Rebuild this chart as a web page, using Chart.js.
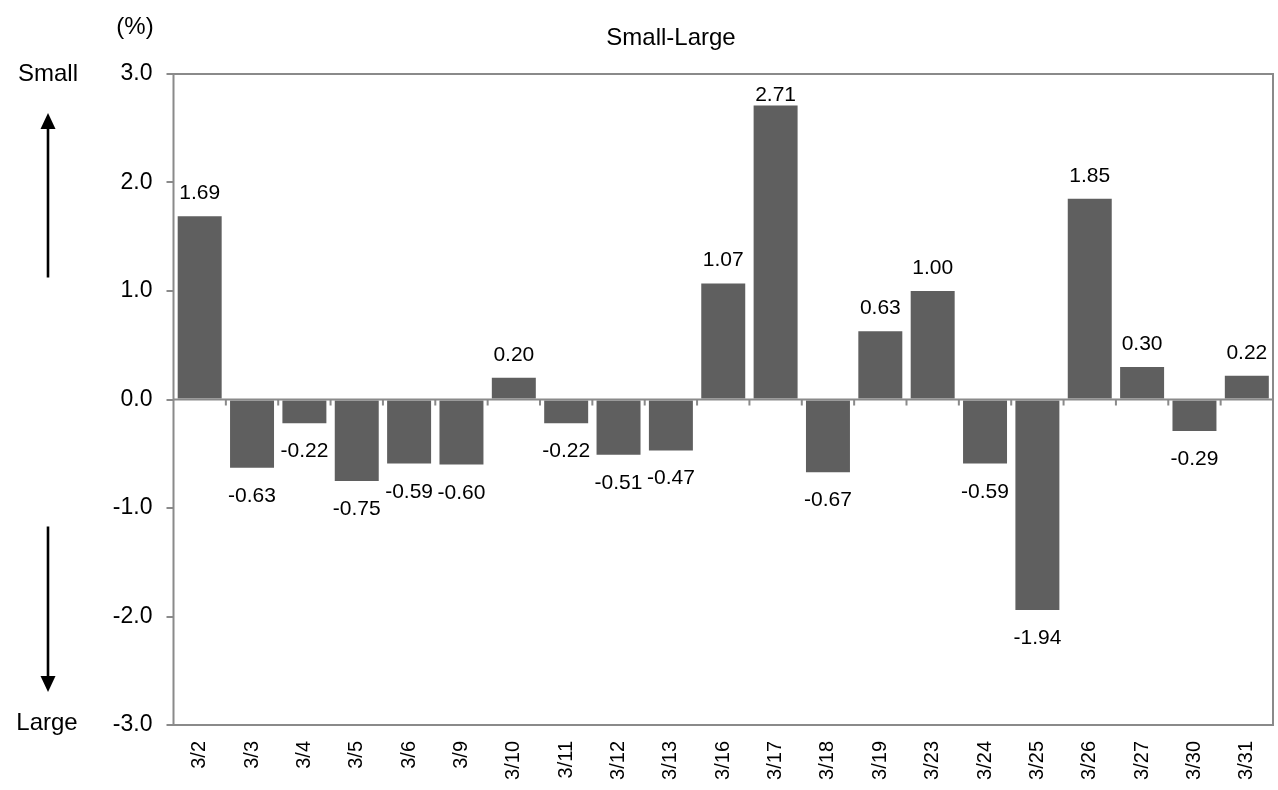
<!DOCTYPE html>
<html>
<head>
<meta charset="utf-8">
<script src="https://cdn.jsdelivr.net/npm/chart.js@4/dist/chart.umd.min.js"></script>
<style>
  body { margin: 0; background: #fff; }
  #wrap { width: 1278px; height: 790px; }
</style>
</head>
<body>
<div id="wrap"><canvas id="chart" width="1278" height="790"></canvas></div>
<script>
// data
const dates = ['3/2', '3/3', '3/4', '3/5', '3/6', '3/9', '3/10', '3/11', '3/12', '3/13', '3/16',
               '3/17', '3/18', '3/19', '3/23', '3/24', '3/25', '3/26', '3/27', '3/30', '3/31'];
const smallMinusLarge = [1.69, -0.63, -0.22, -0.75, -0.59, -0.60, 0.20, -0.22, -0.51, -0.47, 1.07,
                         2.71, -0.67, 0.63, 1.00, -0.59, -1.94, 1.85, 0.30, -0.29, 0.22];
const yMin = -3;
const yMax = 3;
const yStep = 1;
const chartTitle = 'Small-Large';
const unitLabel = '(%)';
const topLabel = 'Small';
const bottomLabel = 'Large';

const FONT = '"Liberation Sans", Arial, sans-serif';
const frameColor = '#8a8a8a';

function arrow(ctx, x, yFrom, yTo) {
    const dir = yTo < yFrom ? -1 : 1;
    const head = 16;
    ctx.save();
    ctx.strokeStyle = '#000';
    ctx.fillStyle = '#000';
    ctx.lineWidth = 2.6;
    ctx.beginPath();
    ctx.moveTo(x, yFrom);
    ctx.lineTo(x, yTo - dir * head);
    ctx.stroke();
    ctx.beginPath();
    ctx.moveTo(x, yTo);
    ctx.lineTo(x - 7.5, yTo - dir * head);
    ctx.lineTo(x + 7.5, yTo - dir * head);
    ctx.closePath();
    ctx.fill();
    ctx.restore();
}

const decorations = {
    id: 'decorations',
    afterDatasetsDraw(chart) {
        const {ctx, chartArea: area, scales: {y}} = chart;
        const zero = y.getPixelForValue(0);
        const step = (area.right - area.left) / dates.length;

        ctx.save();
        // frame round the plot area
        ctx.strokeStyle = frameColor;
        ctx.lineWidth = 2;
        ctx.strokeRect(area.left, area.top, area.right - area.left, area.bottom - area.top);

        // zero line with small ticks between categories
        ctx.beginPath();
        ctx.moveTo(area.left, zero);
        ctx.lineTo(area.right, zero);
        for (let i = 1; i < dates.length; i++) {
            const bx = area.left + step * i;
            ctx.moveTo(bx, zero);
            ctx.lineTo(bx, zero + 6);
        }
        ctx.stroke();

        // value labels
        ctx.fillStyle = '#000';
        ctx.font = '21px ' + FONT;
        ctx.textAlign = 'center';
        ctx.textBaseline = 'alphabetic';
        chart.getDatasetMeta(0).data.forEach((bar, i) => {
            const v = smallMinusLarge[i];
            let ty;
            if (v >= 0) {
                ty = Math.max(bar.y - 17, area.top + 27);
            } else {
                ty = bar.y + 34;
            }
            ctx.fillText(v.toFixed(2), bar.x, ty);
        });
        ctx.restore();
    },
    afterDraw(chart) {
        const {ctx, scales: {y}} = chart;
        ctx.save();
        ctx.fillStyle = '#000';
        ctx.textAlign = 'center';
        ctx.textBaseline = 'alphabetic';
        ctx.font = '24px ' + FONT;
        ctx.fillText(chartTitle, 671, 45);
        ctx.fillText(unitLabel, 135, 34);
        ctx.fillText(topLabel, 48, 81);
        ctx.fillText(bottomLabel, 47, 730);

        const zero = y.getPixelForValue(0);
        arrow(ctx, 48, zero - 122, 113);
        arrow(ctx, 48, zero + 127, 692);
        ctx.restore();
    }
};

new Chart(document.getElementById('chart'), {
    type: 'bar',
    data: {
        labels: dates,
        datasets: [{
            label: chartTitle,
            data: smallMinusLarge,
            backgroundColor: '#5f5f5f',
            borderWidth: 0,
            barPercentage: 0.84,
            categoryPercentage: 1.0
        }]
    },
    options: {
        responsive: false,
        animation: false,
        devicePixelRatio: 1,
        layout: {padding: {left: 100, right: 5, top: 74, bottom: 0}},
        plugins: {
            legend: {display: false},
            title: {display: false},
            tooltip: {enabled: false}
        },
        scales: {
            x: {
                grid: {display: false, drawTicks: false},
                border: {display: false},
                ticks: {
                    color: '#000',
                    font: {family: FONT, size: 20},
                    minRotation: 90,
                    maxRotation: 90,
                    padding: 16,
                    autoSkip: false
                },
                afterFit(scale) {
                    scale.height = 65;
                    scale.paddingLeft = 0;
                    scale.paddingRight = 0;
                }
            },
            y: {
                min: yMin,
                max: yMax,
                grid: {
                    display: true,
                    drawOnChartArea: false,
                    drawTicks: true,
                    tickLength: 7,
                    color: frameColor,
                    lineWidth: 2
                },
                border: {display: false},
                ticks: {
                    stepSize: yStep,
                    color: '#000',
                    font: {family: FONT, size: 23},
                    padding: 14,
                    callback: (v) => Number(v).toFixed(1)
                },
                afterFit(scale) {
                    scale.width = 73.5;
                    scale.paddingTop = 0;
                    scale.paddingBottom = 0;
                }
            }
        }
    },
    plugins: [decorations]
});
</script>
</body>
</html>
